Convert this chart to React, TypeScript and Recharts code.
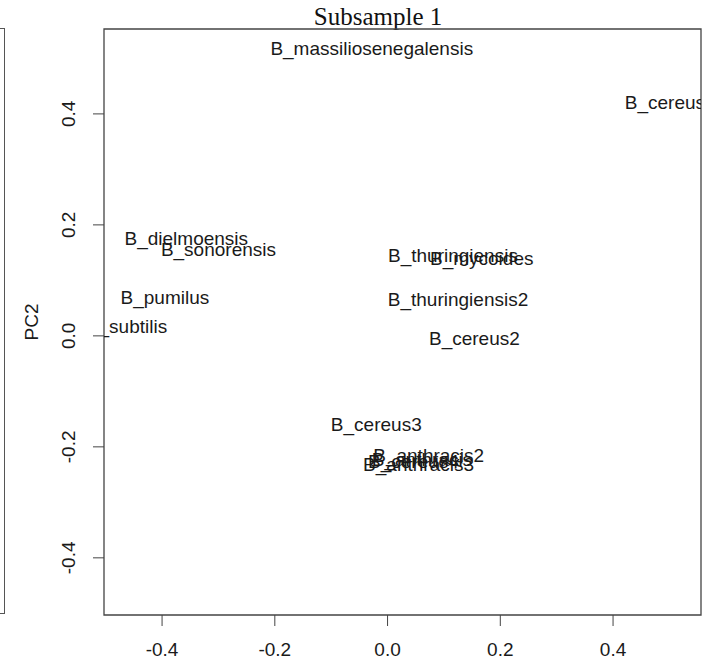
import { ScatterChart, Scatter, XAxis, YAxis, ReferenceArea } from "recharts";

// PCA scores (subsample 1)
const strains = [
  "B_massiliosenegalensis",
  "B_cereus",
  "B_dielmoensis",
  "B_sonorensis",
  "B_pumilus",
  "B_subtilis",
  "B_thuringiensis",
  "B_mycoides",
  "B_thuringiensis2",
  "B_cereus2",
  "B_cereus3",
  "B_anthracis",
  "B_anthracis2",
  "B_anthracis3",
  "B_cereus4",
];
const pc1 = [-0.028, 0.492, -0.357, -0.3, -0.395, -0.463, 0.116, 0.167, 0.125, 0.154, -0.02, 0.061, 0.073, 0.055, 0.046];
const pc2 = [0.517, 0.42, 0.175, 0.155, 0.07, 0.016, 0.144, 0.139, 0.065, -0.004, -0.16, -0.223, -0.216, -0.231, -0.227];

const xLim = [-0.503, 0.556];
const yLim = [-0.503, 0.553];
const axisTicks = [-0.4, -0.2, 0.0, 0.2, 0.4];

const sans = "'Liberation Sans', Arial, sans-serif";
const ink = "#1a1a1a";

const points = strains.map((name, i) => ({ name, pc1: pc1[i], pc2: pc2[i] }));

function StrainLabel(props: any) {
  const { cx, cy, payload } = props;
  return (
    <text x={cx} y={cy} textAnchor="middle" dominantBaseline="central" fontSize={19} fontFamily={sans} fill={ink}>
      {payload.name}
    </text>
  );
}

function RotatedTick(props: any) {
  const { x, y, payload } = props;
  const cx = x - 22;
  return (
    <text
      x={cx}
      y={y}
      transform={`rotate(-90, ${cx}, ${y})`}
      textAnchor="middle"
      dominantBaseline="central"
      fontSize={19}
      fontFamily={sans}
      fill={ink}
    >
      {Number(payload.value).toFixed(1)}
    </text>
  );
}

export default function App() {
  return (
    <div style={{ position: "absolute", left: 0, top: 0, width: 711, height: 669, background: "#fff" }}>
      {/* edge of the neighbouring panel, cut off in the source figure */}
      <div
        style={{
          position: "absolute",
          left: 0,
          top: 28,
          width: 4,
          height: 584,
          borderTop: "1px solid #555",
          borderBottom: "1px solid #555",
          borderRight: "1px solid #555",
        }}
      />
      <svg width={711} height={32} style={{ position: "absolute", left: 0, top: 0 }}>
        <text
          x={378}
          y={25}
          textAnchor="middle"
          fontSize={25}
          fontFamily="'Liberation Serif', 'Times New Roman', serif"
          fill="#111"
        >
          Subsample 1
        </text>
      </svg>
      <ScatterChart
        width={711}
        height={669}
        margin={{ top: 29, right: 10, bottom: 0, left: 0 }}
        style={{ position: "absolute", left: 0, top: 0 }}
      >
        <XAxis
          type="number"
          dataKey="pc1"
          domain={xLim}
          allowDataOverflow
          ticks={axisTicks}
          tickFormatter={(v: number) => v.toFixed(1)}
          height={54}
          tickSize={11}
          tickMargin={17}
          axisLine={false}
          tickLine={{ stroke: "#444" }}
          tick={{ fontSize: 19, fontFamily: sans, fill: ink }}
        />
        <YAxis
          type="number"
          dataKey="pc2"
          domain={yLim}
          allowDataOverflow
          ticks={axisTicks}
          width={104}
          tickSize={11}
          axisLine={false}
          tickLine={{ stroke: "#444" }}
          tick={<RotatedTick />}
          label={{
            content: ({ viewBox }: any) => (
              <text
                x={viewBox.x + 31}
                y={viewBox.y + viewBox.height / 2}
                transform={`rotate(-90, ${viewBox.x + 31}, ${viewBox.y + viewBox.height / 2})`}
                textAnchor="middle"
                dominantBaseline="central"
                fontSize={19}
                fontFamily={sans}
                fill={ink}
              >
                PC2
              </text>
            ),
          }}
        />
        <ReferenceArea x1={xLim[0]} x2={xLim[1]} y1={yLim[0]} y2={yLim[1]} fill="none" stroke="#444" strokeWidth={1.3} />
        <Scatter data={points} shape={<StrainLabel />} isAnimationActive={false} />
      </ScatterChart>
    </div>
  );
}
